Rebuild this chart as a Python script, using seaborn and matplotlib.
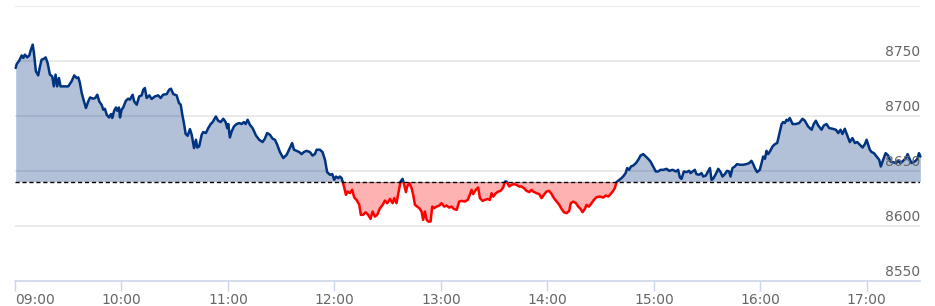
import numpy as np
import pandas as pd
import matplotlib
matplotlib.use("Agg")
import matplotlib.pyplot as plt
import matplotlib.transforms as mtransforms
from matplotlib.patches import Rectangle
import seaborn as sns

# minutes after 09:00 and index level
minutes = [
    0.4, 1.0, 2.4, 3.8, 4.7, 5.6, 6.9, 8.1, 8.8, 10.0, 10.7, 11.8, 13.1, 14.1, 15.0, 16.3,
    17.3, 18.4, 19.7, 21.0, 21.9, 22.9, 23.8, 24.8, 25.7, 27.2, 30.0, 31.9, 33.4, 34.8,
    35.7, 36.6, 37.6, 38.9, 40.0, 41.3, 42.3, 44.1, 45.2, 46.4, 47.5, 48.8, 49.8, 50.7,
    51.7, 53.0, 54.1, 54.8, 55.9, 56.9, 57.6, 58.6, 59.2, 60.1, 61.0, 62.5, 63.8, 64.8,
    66.3, 67.2, 68.6, 70.0, 71.4, 72.3, 73.2, 74.2, 75.7, 77.0, 78.9, 80.7, 82.1, 83.5,
    85.5, 86.9, 87.9, 89.2, 91.1, 92.4, 93.4, 94.3, 95.2, 96.2, 97.3, 98.6, 99.6, 100.9,
    102.0, 102.7, 103.8, 105.2, 106.1, 107.6, 108.9, 110.3, 111.4, 113.2, 114.5, 115.9,
    117.4, 118.7, 119.6, 120.2, 121.1, 122.1, 123.4, 124.9, 126.4, 127.7, 129.0, 130.0,
    131.1, 132.4, 133.9, 135.8, 137.6, 139.5, 140.8, 142.1, 143.7, 145.2, 146.5, 147.8,
    149.3, 151.2, 153.1, 154.9, 156.2, 157.2, 158.7, 160.2, 161.5, 162.8, 164.3, 166.2,
    167.7, 169.0, 170.0, 171.8, 173.3, 174.7, 175.9, 177.5, 178.8, 179.9, 180.9, 182.2,
    183.1, 184.1, 184.6, 185.4, 186.5, 187.4, 188.7, 190.0, 191.2, 192.5, 194.0, 194.9,
    196.2, 197.6, 199.0, 200.4, 201.5, 202.8, 204.1, 205.7, 207.2, 208.5, 209.8, 211.3,
    212.8, 213.7, 215.0, 216.2, 217.3, 218.4, 219.2, 220.3, 221.0, 222.2, 223.5, 224.4,
    225.4, 226.7, 227.8, 229.1, 230.0, 231.0, 232.0, 232.9, 234.2, 235.1, 236.2, 237.6,
    239.1, 240.4, 241.9, 243.2, 244.7, 246.0, 247.3, 248.9, 250.3, 251.7, 253.5, 255.1,
    256.3, 257.3, 258.2, 259.7, 261.0, 262.0, 263.5, 264.8, 266.3, 267.6, 268.6, 269.5,
    271.0, 272.3, 273.6, 275.1, 276.1, 277.0, 278.5, 279.8, 281.1, 282.6, 284.1, 285.5,
    286.8, 288.3, 289.8, 291.1, 292.0, 293.9, 295.4, 296.7, 298.0, 299.5, 301.0, 302.4,
    303.7, 305.2, 306.7, 308.0, 309.3, 310.8, 312.3, 313.2, 314.6, 316.1, 317.4, 318.7,
    319.8, 321.1, 322.1, 323.4, 324.9, 326.2, 327.7, 329.6, 331.4, 332.9, 334.3, 335.6,
    336.8, 338.0, 339.0, 339.9, 341.3, 342.7, 344.1, 345.0, 346.1, 347.1, 348.4, 349.9,
    351.2, 352.5, 354.0, 355.5, 356.8, 358.1, 359.6, 361.1, 362.4, 363.8, 365.3, 367.2,
    368.6, 370.6, 372.4, 373.7, 374.7, 375.6, 376.9, 378.4, 379.9, 380.7, 381.8, 383.1,
    384.0, 385.5, 386.9, 387.8, 389.3, 390.3, 391.6, 392.5, 393.4, 394.9, 396.3, 397.6,
    398.7, 400.0, 401.3, 402.4, 403.2, 404.3, 405.6, 406.9, 408.5, 410.3, 412.2, 413.7,
    415.0, 416.0, 416.9, 418.2, 419.7, 420.7, 421.6, 422.6, 423.5, 424.4, 425.4, 426.9,
    428.2, 429.5, 430.6, 432.0, 432.9, 433.8, 434.8, 435.7, 436.6, 438.2, 440.0, 441.9,
    443.8, 445.1, 446.9, 448.9, 450.1, 451.3, 452.6, 454.5, 455.8, 457.3, 458.8, 460.7,
    462.6, 463.9, 465.2, 466.3, 467.6, 468.9, 470.4, 471.9, 473.3, 474.6, 476.1, 477.6,
    478.9, 479.9, 480.8, 481.7, 482.7, 484.0, 485.5, 487.0, 487.9, 489.2, 490.6, 492.0,
    493.4, 494.8, 496.4, 497.7, 499.0, 500.5, 502.0, 503.0, 503.9, 505.2, 506.4, 507.5,
    508.5, 509.4, 510.2,
]
price = [
    8743.7, 8747.3, 8750.3, 8755.1, 8752.8, 8755.8, 8753.3, 8755.1, 8759.4, 8764.9, 8757.3, 8740.6, 8736.9, 8745.1, 8751.2, 8752.1,
    8753.3, 8748.2, 8737.6, 8736.0, 8726.9, 8737.6, 8726.9, 8734.5, 8726.9, 8726.9, 8726.9, 8731.5, 8736.9, 8734.5,
    8735.1, 8730.0, 8720.9, 8713.2, 8707.2, 8713.2, 8716.8, 8715.7, 8716.3, 8719.3, 8713.2, 8710.2, 8705.6, 8706.5,
    8701.1, 8698.6, 8701.7, 8698.1, 8704.7, 8707.7, 8704.7, 8707.7, 8698.6, 8705.6, 8707.7, 8713.8, 8715.7, 8714.8,
    8719.3, 8713.2, 8710.2, 8717.8, 8718.7, 8723.9, 8725.4, 8716.3, 8718.7, 8715.4, 8717.8, 8718.7, 8716.3, 8719.3,
    8719.9, 8723.9, 8724.8, 8719.9, 8718.7, 8711.8, 8710.2, 8701.1, 8693.5, 8683.5, 8681.9, 8688.0, 8682.8, 8670.7,
    8678.3, 8671.2, 8672.2, 8682.8, 8685.3, 8684.4, 8688.9, 8692.6, 8694.4, 8699.5, 8695.6, 8694.4,
    8697.4, 8694.4, 8688.9, 8692.6, 8680.4, 8685.8, 8690.4, 8692.6, 8693.5, 8692.6, 8694.4, 8692.6,
    8696.5, 8691.9, 8688.9, 8682.2, 8678.3, 8676.2, 8679.2, 8684.4, 8682.8, 8679.2, 8678.3, 8673.7,
    8667.1, 8661.6, 8664.6, 8670.7, 8675.3, 8669.2, 8668.2, 8667.1, 8665.2, 8667.1, 8668.2, 8667.1,
    8663.9, 8665.2, 8669.2, 8669.2, 8667.1, 8660.0, 8648.8, 8646.4, 8647.0, 8641.8, 8644.8, 8643.3,
    8644.8, 8643.3, 8640.2, 8635.7, 8628.1, 8631.1, 8629.7, 8632.7, 8625.6, 8623.5, 8619.0, 8609.9,
    8609.9, 8612.3, 8609.9, 8606.2, 8612.9, 8608.3, 8609.9, 8616.0, 8619.0, 8622.9, 8620.5, 8624.4,
    8620.5, 8625.1, 8620.5, 8631.1, 8640.2, 8642.7, 8637.9, 8630.6, 8635.7, 8638.8, 8634.2, 8628.1,
    8619.0, 8617.4, 8616.0, 8612.9, 8605.3, 8612.9, 8605.3, 8603.8, 8603.8, 8617.4, 8616.0, 8617.4,
    8618.4, 8620.5, 8617.4, 8618.4, 8616.5, 8617.4, 8615.3, 8614.4, 8622.0, 8622.6, 8622.0, 8623.5,
    8628.1, 8632.7, 8628.8, 8632.7, 8634.8, 8625.1, 8622.6, 8623.5, 8624.4, 8623.5, 8629.6, 8626.5,
    8629.6, 8631.1, 8631.7, 8634.8, 8640.2, 8640.2, 8635.7, 8637.2, 8637.9, 8637.2, 8635.7, 8635.7,
    8634.2, 8631.7, 8630.6, 8632.7, 8631.1, 8629.6, 8628.8, 8625.1, 8628.1, 8631.1, 8631.7, 8628.8,
    8625.1, 8622.0, 8619.0, 8615.3, 8612.3, 8611.4, 8613.5, 8620.5, 8622.0, 8620.5, 8617.4, 8615.3,
    8612.3, 8615.3, 8619.0, 8617.4, 8620.5, 8623.5, 8626.0, 8626.6, 8625.6, 8627.5, 8626.6, 8628.8,
    8631.1, 8634.2, 8639.7, 8640.9, 8642.7, 8644.8, 8647.9, 8652.5, 8650.9, 8653.9, 8654.8, 8657.0,
    8660.0, 8663.9, 8665.2, 8663.0, 8660.9, 8658.5, 8653.9, 8649.4, 8649.4, 8650.9, 8650.9, 8651.8,
    8650.0, 8650.9, 8649.4, 8650.9, 8643.9, 8642.7, 8649.4, 8648.8, 8650.0, 8647.9, 8649.4, 8650.9,
    8647.0, 8646.4, 8647.9, 8644.8, 8645.7, 8648.8, 8652.5, 8641.8, 8642.7, 8647.0, 8651.8, 8648.8,
    8644.8, 8647.0, 8650.0, 8649.4, 8644.8, 8652.5, 8653.9, 8656.1, 8655.5, 8655.5, 8656.1, 8657.0,
    8659.1, 8656.1, 8652.5, 8648.8, 8650.9, 8657.0, 8663.0, 8660.9, 8668.2, 8665.2, 8667.6, 8672.2,
    8674.3, 8675.3, 8682.8, 8692.6, 8694.4, 8693.5, 8696.5, 8695.6, 8698.1, 8692.6, 8692.6, 8693.5,
    8697.4, 8695.6, 8690.4, 8687.4, 8692.6, 8695.6, 8691.3, 8687.4, 8691.3, 8692.6, 8688.9, 8688.3,
    8687.4, 8684.4, 8687.4, 8683.5, 8688.3, 8682.8, 8676.2, 8679.8, 8675.3, 8676.2, 8673.7, 8671.2,
    8674.3, 8678.3, 8673.7, 8669.2, 8667.1, 8666.1, 8663.0, 8660.0, 8653.9, 8660.0, 8666.1, 8664.0,
    8658.5, 8657.9, 8657.0, 8659.1, 8657.0, 8659.1, 8661.6, 8665.2, 8661.6, 8657.0, 8657.9, 8659.1,
    8660.9, 8666.1, 8663.0,
]
prev_close = 8640.2

hour_ticks = [0, 60, 120, 180, 240, 300, 360, 420, 480]
hour_labels = ["09:00", "10:00", "11:00", "12:00", "13:00", "14:00", "15:00", "16:00", "17:00"]
y_levels = [8550, 8600, 8650, 8700, 8750, 8800]
y_labels = ["8550", "8600", "8650", "8700", "8750", ""]

df = pd.DataFrame({"minute": minutes, "price": price})

sns.set_style("white")
plt.rcParams["font.family"] = ["DejaVu Sans"]

fig = plt.figure(figsize=(9.35, 3.06), dpi=100)
ax = fig.add_axes([0.016, 0.083, 0.968, 0.897])

up_col = "#003380"
dn_col = "#ff0000"
x_min, x_max = 0, 510
y_min, y_max = 8550, 8800

# grid
for lv in y_levels[1:]:
    ax.axhline(lv, color="#e6e6e6", lw=1.2, zorder=0)

# above / below threshold regions used as clip masks
above = Rectangle((x_min - 5, prev_close), x_max + 10, y_max - prev_close + 10,
                  transform=ax.transData, visible=False)
below = Rectangle((x_min - 5, y_min - 10), x_max + 10, prev_close - y_min + 10,
                  transform=ax.transData, visible=False)
ax.add_patch(above)
ax.add_patch(below)

for col, clip in [(up_col, above), (dn_col, below)]:
    poly = ax.fill_between(df["minute"], df["price"], prev_close, color=col,
                           alpha=0.3, lw=0, zorder=1)
    poly.set_clip_path(clip)
    sns.lineplot(data=df, x="minute", y="price", color=col, lw=1.8, ax=ax,
                 zorder=3, estimator=None, sort=False)
    ax.lines[-1].set_clip_path(clip)

ax.axhline(prev_close, color="black", lw=1, ls=(0, (3, 2)), zorder=4)

ax.set_xlim(x_min, x_max)
ax.set_ylim(y_min, y_max)
ax.set_xlabel("")
ax.set_ylabel("")

ax.set_xticks(hour_ticks)
ax.set_xticklabels(hour_labels)
ax.tick_params(axis="x", direction="out", length=7, width=1, color="#ccd6eb",
               labelcolor="#666666", labelsize=10, pad=2, bottom=True)
ax.get_xticklabels()[0].set_horizontalalignment("left")
ax.set_yticks([])

for side in ["top", "right", "left"]:
    ax.spines[side].set_visible(False)
ax.spines["bottom"].set_color("#ccd6eb")
ax.spines["bottom"].set_linewidth(1.2)

# y labels drawn inside the plot on the right, just above each grid line
trans = mtransforms.blended_transform_factory(ax.transAxes, ax.transData)
for lv, lab in zip(y_levels, y_labels):
    ax.text(1.0, lv + 1.5, lab, transform=trans, ha="right", va="bottom",
            color="#666666", fontsize=10, zorder=5)

fig.savefig("out.png", dpi=100)
plt.close(fig)
